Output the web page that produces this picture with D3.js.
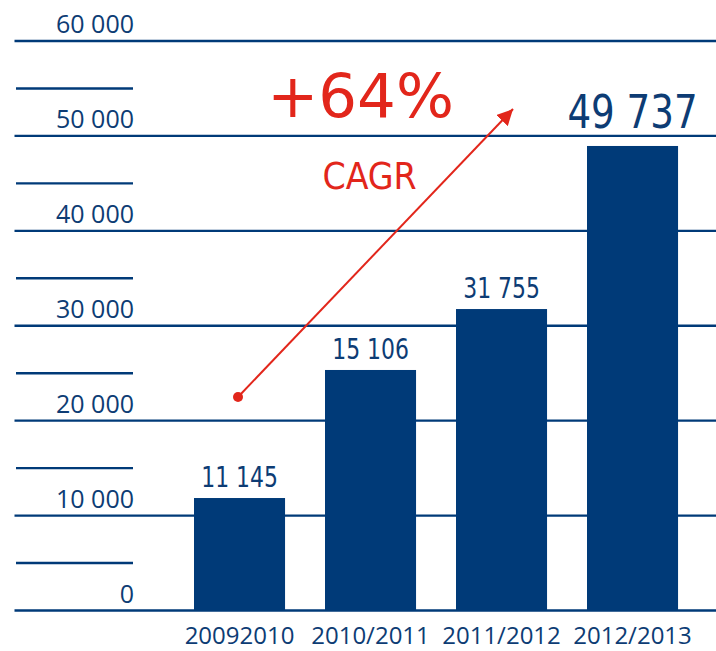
<!DOCTYPE html>
<html>
<head>
<meta charset="utf-8">
<script src="https://cdn.jsdelivr.net/npm/d3@7"></script>
<style>
  html, body { margin: 0; padding: 0; background: #fff; }
  svg { display: block; }
</style>
</head>
<body>
<svg id="chart" width="716" height="651"></svg>
<script>
// ---- data ----
const categories = ["20092010", "2010/2011", "2011/2012", "2012/2013"];
const barValues = [11850, 25340, 31760, 48940];          // bar heights as drawn
const valueLabels = ["11 145", "15 106", "31 755", "49 737"];
const yMajorTicks = [0, 10000, 20000, 30000, 40000, 50000, 60000];
const yMinorTicks = [5000, 15000, 25000, 35000, 45000, 55000];
const cagrText = "+64%";
const cagrSub = "CAGR";

// ---- style ----
const navy = "#003a78";
const textNavy = "#0d3c74";
const red = "#e2261b";

const svg = d3.select("#chart");
const W = 716, H = 651;

const y = d3.scaleLinear().domain([0, 60000]).range([610.5, 41]);
const x = d3.scaleBand().domain(categories).range([174.35, 697.7])
  .paddingInner(0.305).paddingOuter(0.15);
const fmt = d3.formatLocale({decimal: ",", thousands: " ", grouping: [3], currency: ["", ""]}).format(",d");

// minor lines
svg.append("g").selectAll("line").data(yMinorTicks).join("line")
  .attr("x1", 16).attr("x2", 133)
  .attr("y1", d => y(d)).attr("y2", d => y(d))
  .attr("stroke", navy).attr("stroke-width", 2.4);

// major lines
svg.append("g").selectAll("line").data(yMajorTicks).join("line")
  .attr("x1", 14.5).attr("x2", W)
  .attr("y1", d => y(d)).attr("y2", d => y(d))
  .attr("stroke", navy).attr("stroke-width", 2.4);

// y labels
svg.append("g").selectAll("text").data(yMajorTicks).join("text")
  .attr("x", 134).attr("y", d => y(d) - 8)
  .attr("text-anchor", "end")
  .attr("font-family", "'Open Sans', sans-serif")
  .attr("font-size", 25)
  .attr("fill", textNavy)
  .text(d => fmt(d));

// bars
svg.append("g").selectAll("rect").data(barValues).join("rect")
  .attr("x", (d, i) => x(categories[i]))
  .attr("width", x.bandwidth())
  .attr("y", d => y(d))
  .attr("height", d => y(0) - y(d) - 0.5)
  .attr("fill", navy);

// value labels (condensed to mimic the narrow original typeface)
svg.append("g").selectAll("text").data(barValues).join("text")
  .attr("x", (d, i) => x(categories[i]) + x.bandwidth() / 2)
  .attr("y", (d, i) => y(d) - (i === 3 ? 18 : 11))
  .attr("text-anchor", "middle")
  .attr("font-family", "'DejaVu Sans Condensed', 'DejaVu Sans', sans-serif")
  .attr("font-size", (d, i) => i === 3 ? 47 : 29)
  .attr("fill", textNavy)
  .text((d, i) => valueLabels[i])
  .each(function(d, i) {
    const w = this.getComputedTextLength();
    const f = i === 3 ? 0.88 : 0.84;
    d3.select(this).attr("textLength", w * f).attr("lengthAdjust", "spacingAndGlyphs");
  });

// x labels
svg.append("g").selectAll("text").data(categories).join("text")
  .attr("x", d => x(d) + x.bandwidth() / 2)
  .attr("y", 644)
  .attr("text-anchor", "middle")
  .attr("font-family", "'Open Sans', sans-serif")
  .attr("font-size", 24)
  .attr("fill", textNavy)
  .text(d => d);

// CAGR annotation
const cx = (i) => x(categories[i]) + x.bandwidth() / 2;
const arrowStart = [cx(0) - 1.5, y(22500)];
const arrowEnd = [cx(2) + 11.5, y(52830)];

const defs = svg.append("defs");
defs.append("marker").attr("id", "arrow")
  .attr("viewBox", "0 0 10 10").attr("refX", 10).attr("refY", 5)
  .attr("markerWidth", 8).attr("markerHeight", 8)
  .attr("markerUnits", "strokeWidth")
  .attr("orient", "auto")
  .append("path").attr("d", "M0,0 L10,5 L0,10 Z").attr("fill", red);

svg.append("line")
  .attr("x1", arrowStart[0]).attr("y1", arrowStart[1])
  .attr("x2", arrowEnd[0]).attr("y2", arrowEnd[1])
  .attr("stroke", red).attr("stroke-width", 2)
  .attr("marker-end", "url(#arrow)");
svg.append("circle")
  .attr("cx", arrowStart[0]).attr("cy", arrowStart[1]).attr("r", 5)
  .attr("fill", red);

svg.append("text")
  .attr("x", cx(1) - 10).attr("y", y(51990))
  .attr("text-anchor", "middle")
  .attr("font-family", "'DejaVu Sans', sans-serif")
  .attr("font-size", 61)
  .attr("fill", red)
  .text(cagrText);

svg.append("text")
  .attr("x", cx(1) - 1).attr("y", y(44400))
  .attr("text-anchor", "middle")
  .attr("font-family", "'DejaVu Sans Condensed', 'DejaVu Sans', sans-serif")
  .attr("font-size", 37)
  .attr("fill", red)
  .text(cagrSub);
</script>
</body>
</html>
